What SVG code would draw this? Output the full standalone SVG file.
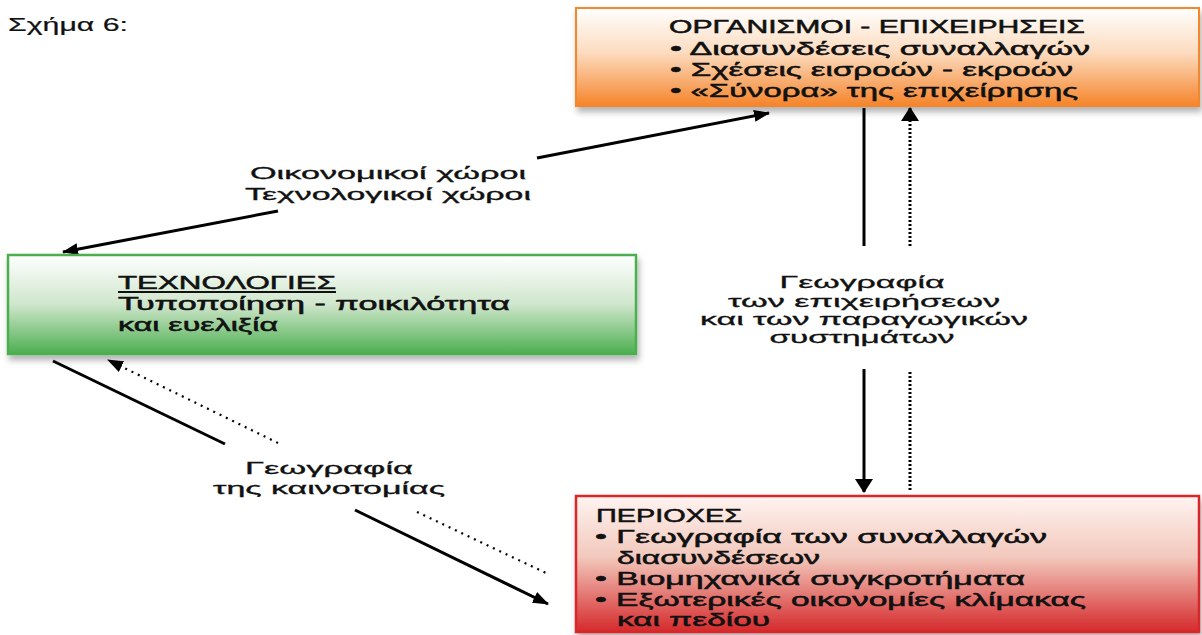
<svg xmlns="http://www.w3.org/2000/svg" width="1202" height="635" viewBox="0 0 1202 635">
<style>
.box{font-family:"Liberation Sans",Arial,sans-serif;font-size:18px;fill:#111;stroke:#111;stroke-width:0.5}
.lbl{font-family:"Liberation Sans",Arial,sans-serif;font-size:16px;fill:#111;stroke:#111;stroke-width:0.3;text-anchor:middle}
.solid{stroke:#000;stroke-width:3;fill:none}
.dot{stroke:#000;stroke-width:2.2;fill:none;stroke-dasharray:2 5}
.vdot{stroke:#000;stroke-width:3;fill:none;stroke-dasharray:2 2}
</style>
<defs>
<linearGradient id="gOr" x1="0" y1="0" x2="0" y2="1">
<stop offset="0" stop-color="#ffffff"/><stop offset="0.45" stop-color="#fcdcc0"/><stop offset="1" stop-color="#f5842a"/>
</linearGradient>
<linearGradient id="gGr" x1="0" y1="0" x2="0" y2="1">
<stop offset="0" stop-color="#ffffff"/><stop offset="0.5" stop-color="#cfe6cc"/><stop offset="1" stop-color="#4caf4f"/>
</linearGradient>
<linearGradient id="gRd" x1="0" y1="0" x2="0" y2="1">
<stop offset="0" stop-color="#fff4f1"/><stop offset="0.45" stop-color="#f2c8bc"/><stop offset="1" stop-color="#d5292b"/>
</linearGradient>
<filter id="sh" x="-5%" y="-10%" width="115%" height="130%">
<feDropShadow dx="2" dy="5" stdDeviation="3" flood-color="#000" flood-opacity="0.3"/>
</filter>
<marker id="ah" markerUnits="userSpaceOnUse" markerWidth="16" markerHeight="12" refX="15" refY="6" orient="auto">
<path d="M0,0 L16,6 L0,12 z" fill="#000"/>
</marker>
<marker id="ahv" markerUnits="userSpaceOnUse" markerWidth="14" markerHeight="18" refX="13" refY="9" orient="auto">
<path d="M0,0 L14,9 L0,18 z" fill="#000"/>
</marker>
</defs>
<rect width="1202" height="635" fill="#fff"/>
<text x="8" y="31" class="box" style="stroke-width:0.2" textLength="120" lengthAdjust="spacingAndGlyphs">Σχήμα 6:</text>

<g id="connectors">
<line class="solid" x1="537" y1="158" x2="769" y2="113" marker-end="url(#ah)"/>
<line class="solid" x1="278" y1="211" x2="63" y2="252" marker-end="url(#ah)"/>
<line class="solid" x1="864" y1="108" x2="864" y2="246"/>
<line class="solid" x1="864" y1="369" x2="864" y2="492" marker-end="url(#ahv)"/>
<line class="vdot" x1="910" y1="246" x2="910" y2="108" marker-end="url(#ahv)"/>
<line class="vdot" x1="910" y1="372" x2="910" y2="490"/>
<line class="solid" x1="53" y1="361" x2="225" y2="444"/>
<line class="solid" x1="355" y1="510" x2="548" y2="604" marker-end="url(#ah)"/>
<line class="dot" x1="278" y1="443" x2="108" y2="360" marker-end="url(#ah)"/>
<line class="dot" x1="417" y1="512" x2="546" y2="573"/>
<text class="lbl" x="388" y="179" textLength="276" lengthAdjust="spacingAndGlyphs">Οικονομικοί χώροι</text>
<text class="lbl" x="388" y="200" textLength="286" lengthAdjust="spacingAndGlyphs">Τεχνολογικοί χώροι</text>
<text class="lbl" x="862" y="288" textLength="165" lengthAdjust="spacingAndGlyphs">Γεωγραφία</text>
<text class="lbl" x="864" y="307" textLength="272" lengthAdjust="spacingAndGlyphs">των επιχειρήσεων</text>
<text class="lbl" x="864" y="325" textLength="328" lengthAdjust="spacingAndGlyphs">και των παραγωγικών</text>
<text class="lbl" x="862" y="343" textLength="185" lengthAdjust="spacingAndGlyphs">συστημάτων</text>
<text class="lbl" x="329" y="474" textLength="168" lengthAdjust="spacingAndGlyphs">Γεωγραφία</text>
<text class="lbl" x="329" y="494" textLength="232" lengthAdjust="spacingAndGlyphs">της καινοτομίας</text>
</g>

<g id="organismoi">
<rect x="576" y="8" width="623" height="98" fill="url(#gOr)" stroke="#f5862b" stroke-width="2" filter="url(#sh)"/>
<text class="box" x="669" y="33" textLength="416" lengthAdjust="spacingAndGlyphs">ΟΡΓΑΝΙΣΜΟΙ - ΕΠΙΧΕΙΡΗΣΕΙΣ</text>
<text class="box" x="670" y="55" textLength="420" lengthAdjust="spacingAndGlyphs">• Διασυνδέσεις συναλλαγών</text>
<text class="box" x="670" y="76" textLength="403" lengthAdjust="spacingAndGlyphs">• Σχέσεις εισροών - εκροών</text>
<text class="box" x="670" y="97" textLength="408" lengthAdjust="spacingAndGlyphs">• «Σύνορα» της επιχείρησης</text>
</g>

<g id="technologies">
<rect x="8" y="255" width="628" height="99" fill="url(#gGr)" stroke="#4caf4f" stroke-width="2.5" filter="url(#sh)"/>
<text class="box" x="118" y="289" textLength="218" lengthAdjust="spacingAndGlyphs">ΤΕΧΝΟΛΟΓΙΕΣ</text>
<line x1="118" y1="292" x2="336" y2="292" stroke="#111" stroke-width="2"/>
<text class="box" x="118" y="310" textLength="392" lengthAdjust="spacingAndGlyphs">Τυποποίηση - ποικιλότητα</text>
<text class="box" x="118" y="331" textLength="160" lengthAdjust="spacingAndGlyphs">και ευελιξία</text>
</g>

<g id="periohes">
<rect x="576" y="496" width="623" height="136" fill="url(#gRd)" stroke="#d9262b" stroke-width="2.5" filter="url(#sh)"/>
<text class="box" x="596" y="522" textLength="146" lengthAdjust="spacingAndGlyphs">ΠΕΡΙΟΧΕΣ</text>
<text class="box" x="595" y="543" textLength="452" lengthAdjust="spacingAndGlyphs">• Γεωγραφία των συναλλαγών</text>
<text class="box" x="617" y="564" textLength="203" lengthAdjust="spacingAndGlyphs">διασυνδέσεων</text>
<text class="box" x="595" y="585" textLength="430" lengthAdjust="spacingAndGlyphs">• Βιομηχανικά συγκροτήματα</text>
<text class="box" x="595" y="606" textLength="491" lengthAdjust="spacingAndGlyphs">• Εξωτερικές οικονομίες κλίμακας</text>
<text class="box" x="617" y="626" textLength="153" lengthAdjust="spacingAndGlyphs">και πεδίου</text>
</g>
</svg>
